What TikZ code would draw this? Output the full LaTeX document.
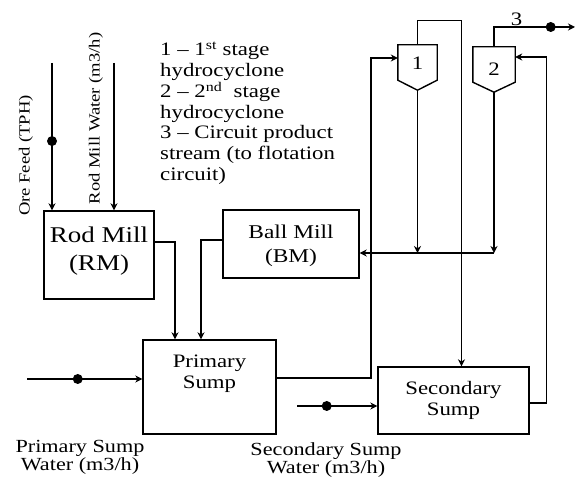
\documentclass[tikz,border=0pt]{standalone}
\usepackage{fontspec}
\setmainfont[FakeStretch=1.2]{Liberation Serif}
\usetikzlibrary{positioning, arrows.meta, calc}

\begin{document}
\begin{tikzpicture}[x=1pt, y=1pt,
    unit/.style={rectangle, draw, line width=1.4pt, align=center, inner sep=0pt,
                 font=\fontsize{19pt}{21pt}\selectfont},
    cyc/.style={rectangle, inner sep=0pt, font=\fontsize{19pt}{21pt}\selectfont},
    pipe/.style={line width=1.4pt},
    arr/.style={pipe, -{Stealth[length=7pt, width=7pt]}},
    dot/.style={circle, fill, inner sep=0pt, minimum size=10pt},
    note/.style={align=center, inner sep=0pt, font=\fontsize{18.5pt}{18pt}\selectfont},
    vlabel/.style={rotate=90, inner sep=0pt, font=\fontsize{15.5pt}{15pt}\selectfont},
  ]
  \useasboundingbox (0,0) rectangle (576,477);

  % mills and sumps
  \node[unit, minimum width=110pt, minimum height=88pt, font=\fontsize{22.5pt}{28pt}\selectfont,
        text depth=12pt] (rm) at (99,222) {Rod Mill\\(RM)};
  \node[unit, minimum width=136pt, minimum height=68pt, font=\fontsize{19.5pt}{24pt}\selectfont,
        text depth=1pt] (bm) at (291,233) {Ball Mill\\(BM)};
  \node[unit, minimum width=133pt, minimum height=94pt, text depth=30pt] (ps) at (209.5,90) {Primary\\Sump};
  \node[unit, minimum width=151pt, minimum height=67pt] (ss) at (453.5,76.5) {Secondary\\Sump};

  % hydrocyclones
  \node[cyc, minimum width=39pt, minimum height=45pt, text depth=8pt] (cy1) at (417.5,409.5) {1};
  \node[cyc, minimum width=42pt, minimum height=45pt] (cy2) at (494,407.5) {2};
  \foreach \c in {cy1, cy2}
    \draw[pipe] (\c.north west) -- (\c.north east) -- ([yshift=10pt]\c.south east)
      -- (\c.south) -- ([yshift=10pt]\c.south west) -- cycle;

  % key
  \node[anchor=north west, align=left, inner sep=0pt, font=\fontsize{19pt}{20.7pt}\selectfont]
    (key) at (160,435) {1 -- 1\textsuperscript{st} stage\\hydrocyclone\\2 -- 2\textsuperscript{nd}\ \ stage\\hydrocyclone\\3 -- Circuit product\\stream (to flotation\\circuit)};

  % feeds to rod mill
  \coordinate (orein) at (52,414);
  \coordinate (rmwin) at (114,414);
  \draw[arr] (orein) -- (orein |- rm.north) node[dot, pos=0.53] (d1) {};
  \draw[arr] (rmwin) -- (rmwin |- rm.north);
  \node[vlabel] (orelbl) at (26,321.5) {Ore Feed (TPH)};
  \node[vlabel] (rmwlbl) at (96,358.5) {Rod Mill Water (m3/h)};

  % mills to primary sump
  \draw[arr] ([yshift=13pt]rm.east) -| ([xshift=-34.5pt]ps.north);
  \draw[arr] ([yshift=4pt]bm.west) -| ([xshift=-8.5pt]ps.north);

  % primary sump to cyclone 1
  \draw[arr] ([yshift=9pt]ps.east) -| ([xshift=-27pt, yshift=9.5pt]cy1.west) -- ([yshift=9.5pt]cy1.west);

  % cyclone 1 overflow to secondary sump
  \draw[arr] (cy1.north) -- ++(0,24) -| ([xshift=8pt]ss.north);

  % underflows back to ball mill
  \coordinate (ret) at ([yshift=-9pt]bm.east);
  \draw[arr] (cy1.south) -- (cy1.south |- ret);
  \draw[arr] (cy2.south) -- (cy2.south |- ret);
  \draw[arr] (cy2.south |- ret) -- (ret);

  % secondary sump to cyclone 2
  \draw[arr] ([yshift=-2.5pt]ss.east) -| ([xshift=31pt, yshift=12.5pt]cy2.east) -- ([yshift=12.5pt]cy2.east);

  % circuit product
  \coordinate (prod) at (575,450);
  \draw[arr] (cy2.north) |- (prod) node[dot, pos=0.85] (d2) {} node[pos=0.64, above=1pt, inner sep=0pt,
    font=\fontsize{19pt}{19pt}\selectfont] (three) {3};

  % sump water
  \coordinate (pswin) at (27,98);
  \coordinate (sswin) at (297,71);
  \draw[arr] (pswin) -- (pswin -| ps.west) node[dot, pos=0.44] (d3) {};
  \draw[arr] (sswin) -- (sswin -| ss.west) node[dot, pos=0.37] (d4) {};
  \node[note] (pswlbl) at (80,20) {Primary Sump\\Water (m3/h)};
  \node[note] (sswlbl) at (326,17) {Secondary Sump\\Water (m3/h)};
\end{tikzpicture}
\end{document}
